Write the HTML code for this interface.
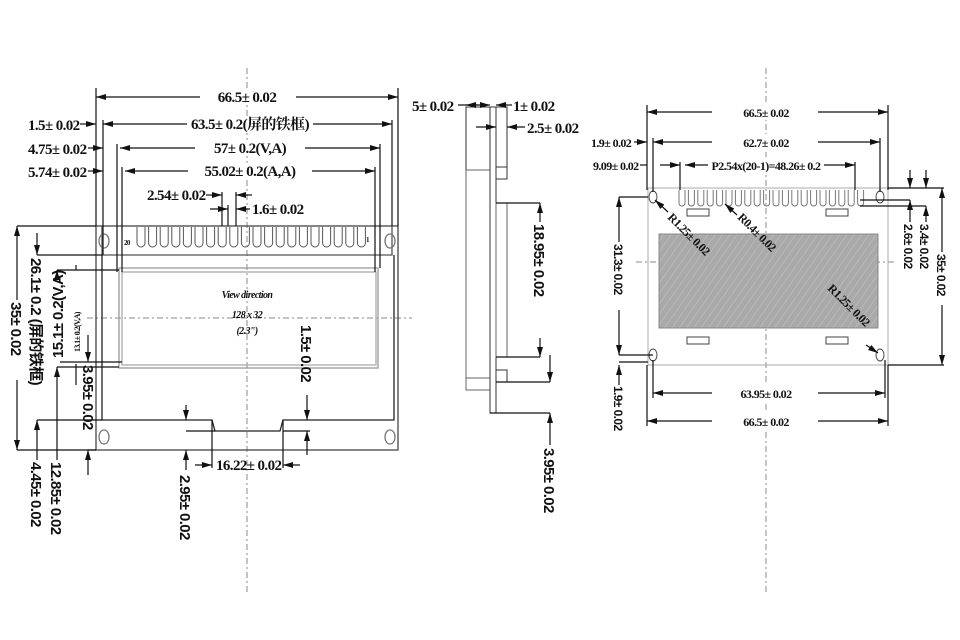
<!DOCTYPE html>
<html><head><meta charset="utf-8"><style>
html,body{margin:0;padding:0;background:#fff;width:960px;height:640px;overflow:hidden}
svg{display:block}
text{font-family:"Liberation Serif","Noto Serif CJK SC",serif;font-weight:bold;font-size:15px;fill:#111;letter-spacing:-0.6px}
.s{font-family:"Liberation Sans","Noto Sans CJK SC",sans-serif;font-size:15px}
.t{font-size:11px}
</style></head><body>
<svg width="960" height="640" viewBox="0 0 960 640" xmlns="http://www.w3.org/2000/svg">
<defs>
<marker id="a" viewBox="0 0 10 6" refX="10" refY="3" markerWidth="10" markerHeight="6" orient="auto-start-reverse" markerUnits="userSpaceOnUse"><path d="M0,0 L10,3 L0,6z" fill="#111"/></marker>
<pattern id="h" width="6" height="6" patternUnits="userSpaceOnUse" patternTransform="rotate(35)"><rect width="6" height="6" fill="#a9a9a9"/><line x1="0" y1="0" x2="0" y2="6" stroke="#bdbdbd" stroke-width="1.5"/></pattern>
</defs>
<g stroke="#888" stroke-width="1" stroke-dasharray="6,3,2,3" fill="none">
<line x1="247" y1="68" x2="247" y2="592"/>
<line x1="87" y1="318" x2="412" y2="318"/>
<line x1="766" y1="68" x2="766" y2="592"/>
<line x1="636" y1="262" x2="896" y2="262"/>
</g>
<!-- LEFT VIEW -->
<g stroke="#222" fill="none" stroke-width="1.3">
<rect x="96" y="226" width="302" height="224" stroke="#444"/>
<path d="M102 226 V255 H392 V226" stroke="#555"/>
<path d="M102 255 V420 H212 L215 431 H280 L283 420 H394 V255"/>
<rect x="119" y="268" width="259" height="100" stroke="#999"/>
<rect x="122" y="272" width="254" height="93" stroke="#aaa"/>
<ellipse cx="104" cy="241" rx="5" ry="7" stroke="#777"/>
<ellipse cx="390" cy="241" rx="5" ry="7" stroke="#777"/>
<ellipse cx="104" cy="437" rx="5" ry="7" stroke="#777"/>
<ellipse cx="390" cy="437" rx="5" ry="7" stroke="#777"/>
</g>
<g stroke="#555" fill="none" stroke-width="1">
<path d="M137 227 V243 a4 4 0 0 0 8 0 V227 M148.6 227 V243 a4 4 0 0 0 8 0 V227 M160.2 227 V243 a4 4 0 0 0 8 0 V227 M171.8 227 V243 a4 4 0 0 0 8 0 V227 M183.4 227 V243 a4 4 0 0 0 8 0 V227 M195 227 V243 a4 4 0 0 0 8 0 V227 M206.6 227 V243 a4 4 0 0 0 8 0 V227 M218.2 227 V243 a4 4 0 0 0 8 0 V227 M229.8 227 V243 a4 4 0 0 0 8 0 V227 M241.4 227 V243 a4 4 0 0 0 8 0 V227 M253 227 V243 a4 4 0 0 0 8 0 V227 M264.6 227 V243 a4 4 0 0 0 8 0 V227 M276.2 227 V243 a4 4 0 0 0 8 0 V227 M287.8 227 V243 a4 4 0 0 0 8 0 V227 M299.4 227 V243 a4 4 0 0 0 8 0 V227 M311 227 V243 a4 4 0 0 0 8 0 V227 M322.6 227 V243 a4 4 0 0 0 8 0 V227 M334.2 227 V243 a4 4 0 0 0 8 0 V227 M345.8 227 V243 a4 4 0 0 0 8 0 V227 M357.4 227 V243 a4 4 0 0 0 8 0 V227"/>
</g>
<text x="124" y="245" class="t" style="font-size:7px">20</text>
<text x="366" y="242" class="t" style="font-size:7px">1</text>
<text x="247" y="298" text-anchor="middle" style="font-size:10px;font-style:italic">View direction</text>
<text x="247" y="318" text-anchor="middle" style="font-size:10px;font-style:italic">128 x 32</text>
<text x="247" y="334" text-anchor="middle" style="font-size:10px;font-style:italic">(2.3")</text>
<!-- left dims -->
<g stroke="#111" stroke-width="1.2" fill="none">
<line x1="96" y1="88" x2="96" y2="226"/><line x1="398" y1="88" x2="398" y2="226"/>
<line x1="96" y1="97" x2="398" y2="97" marker-start="url(#a)" marker-end="url(#a)"/>
<line x1="103" y1="120" x2="103" y2="255"/><line x1="392" y1="120" x2="392" y2="226"/>
<line x1="103" y1="124" x2="392" y2="124" marker-start="url(#a)" marker-end="url(#a)"/>
<line x1="80" y1="124" x2="96" y2="124" marker-end="url(#a)"/>
<line x1="117" y1="144" x2="117" y2="272"/><line x1="380" y1="144" x2="380" y2="268"/>
<line x1="120" y1="148" x2="380" y2="148" marker-start="url(#a)" marker-end="url(#a)"/>
<line x1="88" y1="148" x2="103" y2="148" marker-end="url(#a)"/>
<line x1="122" y1="167" x2="122" y2="272"/><line x1="375" y1="167" x2="375" y2="272"/>
<line x1="125" y1="171" x2="375" y2="171" marker-start="url(#a)" marker-end="url(#a)"/>
<line x1="88" y1="171" x2="103" y2="171" marker-end="url(#a)"/>
<line x1="222" y1="192" x2="222" y2="226"/><line x1="228" y1="205" x2="228" y2="226"/><line x1="236" y1="192" x2="236" y2="226"/>
<line x1="206" y1="195" x2="222" y2="195" marker-end="url(#a)"/><line x1="252" y1="195" x2="236" y2="195" marker-end="url(#a)"/>
<line x1="210" y1="209" x2="228" y2="209" marker-end="url(#a)"/><line x1="250" y1="209" x2="236" y2="209" marker-end="url(#a)"/>
<line x1="17" y1="226" x2="96" y2="226"/><line x1="17" y1="450" x2="96" y2="450"/>
<line x1="17" y1="226" x2="17" y2="300" marker-start="url(#a)"/><line x1="17" y1="380" x2="17" y2="450" marker-end="url(#a)"/>
<line x1="37" y1="255" x2="102" y2="255"/><line x1="37" y1="420" x2="102" y2="420"/>
<line x1="37" y1="233" x2="37" y2="255" marker-end="url(#a)"/>
<line x1="37" y1="420" x2="37" y2="460" marker-start="url(#a)"/>
<line x1="57" y1="270" x2="119" y2="270"/><line x1="57" y1="367" x2="119" y2="367"/>
<line x1="57" y1="270" x2="57" y2="275" marker-start="url(#a)"/><line x1="57" y1="367" x2="57" y2="460" marker-start="url(#a)"/>
<line x1="76" y1="265" x2="76" y2="270" /><line x1="76" y1="364" x2="76" y2="385"/>
<line x1="60" y1="362" x2="122" y2="362"/>
<line x1="88" y1="335" x2="88" y2="362" marker-end="url(#a)"/><line x1="88" y1="475" x2="88" y2="450" marker-end="url(#a)"/>
<line x1="88" y1="450" x2="96" y2="450"/>
<line x1="186" y1="405" x2="186" y2="420" marker-end="url(#a)"/>
<line x1="186" y1="470" x2="186" y2="450" marker-end="url(#a)"/>
<line x1="186" y1="431" x2="215" y2="431"/>
<line x1="212" y1="420" x2="212" y2="468"/><line x1="283" y1="420" x2="283" y2="468"/>
<line x1="195" y1="465" x2="212" y2="465" marker-end="url(#a)"/><line x1="300" y1="465" x2="283" y2="465" marker-end="url(#a)"/>
<line x1="307" y1="395" x2="307" y2="420" marker-end="url(#a)"/><line x1="307" y1="455" x2="307" y2="431" marker-end="url(#a)"/>
<line x1="283" y1="431" x2="310" y2="431"/>
</g>
<text x="28" y="130">1.5± 0.02</text>
<text x="28" y="154">4.75± 0.02</text>
<text x="28" y="177">5.74± 0.02</text>
<text x="147" y="200">2.54± 0.02</text>
<text x="252" y="214">1.6± 0.02</text>
<text x="216" y="470">16.22± 0.02</text>
<text class="s" transform="translate(11,302) rotate(90)">35± 0.02</text>
<text class="s" transform="translate(31,258) rotate(90)">26.1± 0.2 (屏的铁框)</text>
<text class="s" transform="translate(63,358) rotate(-90)">15.1± 0.2(V,A)</text>
<text class="t" transform="translate(80,352) rotate(-90)" style="font-size:8px">13.1± 0.2(V,A)</text>
<text class="s" transform="translate(83,365) rotate(90)">3.95± 0.02</text>
<text class="s" transform="translate(31,462) rotate(90)">4.45± 0.02</text>
<text class="s" transform="translate(51,462) rotate(90)">12.85± 0.02</text>
<text class="s" transform="translate(180,475) rotate(90)">2.95± 0.02</text>
<text class="s" transform="translate(301,325) rotate(90)">1.5± 0.02</text>
<!-- MIDDLE VIEW -->
<g stroke="#333" fill="none" stroke-width="1">
<rect x="466" y="107" width="24" height="63"/>
<rect x="466" y="170" width="24" height="208" stroke="#666"/>
<rect x="466" y="378" width="24" height="12" stroke="#666"/>
<rect x="490" y="107" width="6" height="306"/>
<rect x="496" y="107" width="11" height="60"/>
<rect x="496" y="167" width="11" height="12"/>
<rect x="496" y="203" width="11" height="154" stroke="#666"/>
<rect x="496" y="370" width="11" height="12"/>
</g>
<g stroke="#111" stroke-width="1.2" fill="none">
<line x1="496" y1="203" x2="540" y2="203"/><line x1="496" y1="357" x2="540" y2="357"/>
<line x1="540" y1="203" x2="540" y2="222" marker-start="url(#a)"/><line x1="540" y1="338" x2="540" y2="357" marker-end="url(#a)"/>
<line x1="496" y1="382" x2="550" y2="382"/><line x1="490" y1="413" x2="550" y2="413"/>
<line x1="550" y1="355" x2="550" y2="382" marker-end="url(#a)"/><line x1="550" y1="445" x2="550" y2="413" marker-end="url(#a)"/>
<line x1="458" y1="105" x2="490" y2="105" marker-end="url(#a)"/>
<line x1="466" y1="105" x2="478" y2="105" marker-start="url(#a)"/>
<line x1="512" y1="105" x2="496" y2="105" marker-end="url(#a)"/>
<line x1="476" y1="127" x2="496" y2="127" marker-end="url(#a)"/>
<line x1="525" y1="127" x2="507" y2="127" marker-end="url(#a)"/>
</g>
<text x="412" y="111">5± 0.02</text>
<text x="513" y="111">1± 0.02</text>
<text x="527" y="133">2.5± 0.02</text>
<text class="s" transform="translate(534,224) rotate(90)">18.95± 0.02</text>
<text class="s" transform="translate(544,448) rotate(90)">3.95± 0.02</text>
<!-- RIGHT VIEW -->
<g stroke="#444" fill="none" stroke-width="1">
<rect x="648" y="188" width="240" height="177" stroke="#aaa"/>
<rect x="659" y="234" width="219" height="94" fill="url(#h)" stroke="#888"/>
<ellipse cx="653" cy="197" rx="4" ry="6"/><ellipse cx="880" cy="197" rx="4" ry="6"/>
<ellipse cx="653" cy="355" rx="4" ry="6"/><ellipse cx="880" cy="355" rx="4" ry="6"/>
<rect x="687" y="209" width="22" height="7"/><rect x="826" y="209" width="22" height="7"/>
<rect x="687" y="337" width="22" height="7"/><rect x="826" y="337" width="22" height="7"/>
<path stroke="#777" d="M679 190 V203 a3 3 0 0 0 6 0 V190 M688.4 190 V203 a3 3 0 0 0 6 0 V190 M697.8 190 V203 a3 3 0 0 0 6 0 V190 M707.2 190 V203 a3 3 0 0 0 6 0 V190 M716.6 190 V203 a3 3 0 0 0 6 0 V190 M726 190 V203 a3 3 0 0 0 6 0 V190 M735.4 190 V203 a3 3 0 0 0 6 0 V190 M744.8 190 V203 a3 3 0 0 0 6 0 V190 M754.2 190 V203 a3 3 0 0 0 6 0 V190 M763.6 190 V203 a3 3 0 0 0 6 0 V190 M773 190 V203 a3 3 0 0 0 6 0 V190 M782.4 190 V203 a3 3 0 0 0 6 0 V190 M791.8 190 V203 a3 3 0 0 0 6 0 V190 M801.2 190 V203 a3 3 0 0 0 6 0 V190 M810.6 190 V203 a3 3 0 0 0 6 0 V190 M820 190 V203 a3 3 0 0 0 6 0 V190 M829.4 190 V203 a3 3 0 0 0 6 0 V190 M838.8 190 V203 a3 3 0 0 0 6 0 V190 M848.2 190 V203 a3 3 0 0 0 6 0 V190 M857.6 190 V203 a3 3 0 0 0 6 0 V190"/>
</g>
<g stroke="#111" stroke-width="1.2" fill="none">
<line x1="647" y1="105" x2="647" y2="190"/><line x1="888" y1="105" x2="888" y2="190"/>
<line x1="647" y1="112" x2="888" y2="112" marker-start="url(#a)" marker-end="url(#a)"/>
<line x1="653" y1="138" x2="653" y2="192"/><line x1="880" y1="138" x2="880" y2="192"/>
<line x1="653" y1="142" x2="880" y2="142" marker-start="url(#a)" marker-end="url(#a)"/>
<line x1="634" y1="142" x2="647" y2="142" marker-end="url(#a)"/>
<line x1="680" y1="162" x2="680" y2="190"/><line x1="855" y1="162" x2="855" y2="190"/>
<line x1="685" y1="165" x2="855" y2="165" marker-start="url(#a)" marker-end="url(#a)"/>
<line x1="640" y1="165" x2="647" y2="165"/><line x1="660" y1="165" x2="680" y2="165" marker-end="url(#a)"/>
<line x1="888" y1="188" x2="944" y2="188"/><line x1="888" y1="365" x2="944" y2="365"/>
<line x1="942" y1="188" x2="942" y2="252" marker-start="url(#a)"/><line x1="942" y1="305" x2="942" y2="365" marker-end="url(#a)"/>
<line x1="860" y1="200" x2="910" y2="200"/><line x1="860" y1="206" x2="926" y2="206"/>
<line x1="910" y1="170" x2="910" y2="188" marker-end="url(#a)"/><line x1="910" y1="222" x2="910" y2="200" marker-end="url(#a)"/>
<line x1="926" y1="170" x2="926" y2="188" marker-end="url(#a)"/><line x1="926" y1="222" x2="926" y2="206" marker-end="url(#a)"/>
<line x1="619" y1="197" x2="648" y2="197"/><line x1="619" y1="355" x2="653" y2="355"/>
<line x1="619" y1="197" x2="619" y2="242" marker-start="url(#a)"/><line x1="619" y1="310" x2="619" y2="355" marker-end="url(#a)"/>
<line x1="619" y1="362" x2="648" y2="362"/>
<line x1="619" y1="385" x2="619" y2="365" marker-end="url(#a)"/>
<line x1="653" y1="360" x2="653" y2="398"/><line x1="885" y1="360" x2="885" y2="398"/>
<line x1="653" y1="393" x2="885" y2="393" marker-start="url(#a)" marker-end="url(#a)"/>
<line x1="647" y1="365" x2="647" y2="426"/><line x1="888" y1="365" x2="888" y2="426"/>
<line x1="647" y1="421" x2="888" y2="421" marker-start="url(#a)" marker-end="url(#a)"/>
<line x1="668" y1="212" x2="655" y2="200" marker-end="url(#a)"/>
<line x1="737" y1="215" x2="725" y2="204" marker-end="url(#a)"/>
<line x1="866" y1="345" x2="878" y2="353" marker-end="url(#a)"/>
</g>
<g fill="#fff">
<rect x="712" y="104" width="106" height="16"/><rect x="712" y="134" width="106" height="16"/>
<rect x="708" y="157" width="116" height="16"/><rect x="712" y="385" width="106" height="16"/><rect x="712" y="413" width="106" height="16"/>
<rect x="200" y="89" width="96" height="16"/><rect x="187" y="116" width="126" height="16"/><rect x="195" y="140" width="110" height="16"/><rect x="188" y="163" width="124" height="16"/>
</g>
<text x="247" y="102" text-anchor="middle">66.5± 0.02</text>
<text x="250" y="129" text-anchor="middle">63.5± 0.2(屏的铁框)</text>
<text x="250" y="153" text-anchor="middle">57± 0.2(V,A)</text>
<text x="250" y="176" text-anchor="middle">55.02± 0.2(A,A)</text>
<text x="766" y="117" text-anchor="middle" style="font-size:12px">66.5± 0.02</text>
<text x="766" y="147" text-anchor="middle" style="font-size:12px">62.7± 0.02</text>
<text x="766" y="170" text-anchor="middle" style="font-size:12px">P2.54x(20-1)=48.26± 0.2</text>
<text x="766" y="398" text-anchor="middle" style="font-size:12px">63.95± 0.02</text>
<text x="766" y="426" text-anchor="middle" style="font-size:12px">66.5± 0.02</text>
<text x="591" y="147" style="font-size:12px">1.9± 0.02</text>
<text x="593" y="170" style="font-size:12px">9.09± 0.02</text>
<text class="s" transform="translate(904,224) rotate(90)" style="font-size:12px">2.6± 0.02</text>
<text class="s" transform="translate(920,224) rotate(90)" style="font-size:12px">3.4± 0.02</text>
<text class="s" transform="translate(937,254) rotate(90)" style="font-size:12px">35± 0.02</text>
<text class="s" transform="translate(614,244) rotate(90)" style="font-size:12px">31.3± 0.02</text>
<text class="s" transform="translate(614,386) rotate(90)" style="font-size:12px">1.9± 0.02</text>
<text transform="translate(667,218) rotate(45)" style="font-size:12px">R1.25± 0.02</text>
<text transform="translate(737,218) rotate(45)" style="font-size:12px">R0.4± 0.02</text>
<text transform="translate(827,289) rotate(45)" style="font-size:12px">R1.25± 0.02</text>
</svg>
</body></html>
